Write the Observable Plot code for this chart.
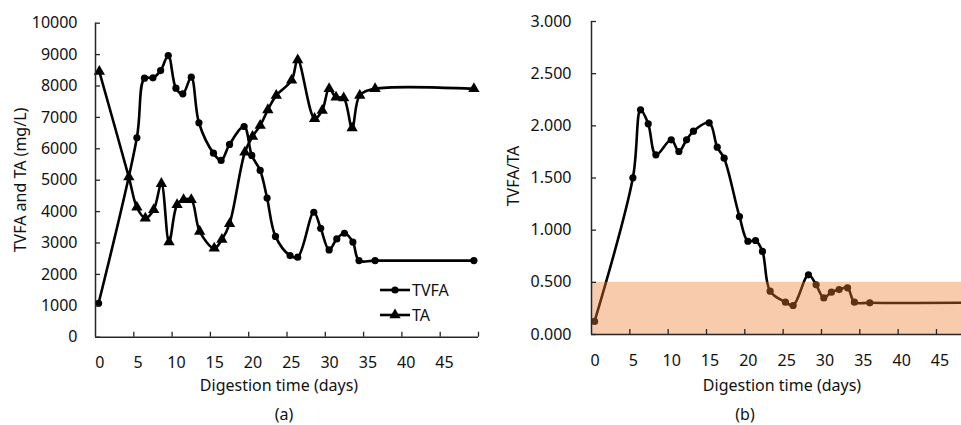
<!DOCTYPE html>
<html><head><meta charset="utf-8">
<script src="https://cdn.jsdelivr.net/npm/d3@7"></script>
<script src="https://cdn.jsdelivr.net/npm/@observablehq/plot@0.6"></script>
<style>
body{margin:0;background:#fff;overflow:hidden;font-family:"Noto Sans",sans-serif;}
#wrap{position:relative;width:961px;height:425px;overflow:hidden;background:#fff;}
.panel{position:absolute;top:0;overflow:hidden;}
.lbl{position:absolute;font-size:16px;color:#111;white-space:nowrap;transform:translate(-50%,-50%);line-height:1;}
.rot{transform:translate(-50%,-50%) rotate(-90deg);}
</style></head><body><div id="wrap"></div>
<script>
// ---- data ----
const tvfaDays = [0.4, 5.4, 6.4, 7.5, 8.5, 9.5, 10.5, 11.4, 12.5, 13.5, 15.4, 16.4, 17.5, 19.4, 20.4, 21.5, 22.4, 23.5, 25.4, 26.4, 28.5, 29.4, 30.5, 31.5, 32.5, 33.6, 34.4, 36.5, 49.4];
const tvfaValues = [1080, 6350, 8250, 8260, 8490, 8970, 7930, 7750, 8280, 6830, 5860, 5630, 6140, 6710, 5790, 5310, 4430, 3210, 2600, 2550, 3980, 3470, 2780, 3130, 3310, 3030, 2440, 2440, 2440];
const taDays = [0.5, 4.35, 5.4, 6.5, 7.6, 8.6, 9.6, 10.65, 11.5, 12.5, 13.6, 15.5, 16.5, 17.5, 19.5, 20.5, 21.5, 22.5, 23.6, 25.6, 26.4, 28.6, 29.6, 30.5, 31.4, 32.4, 33.5, 34.5, 36.5, 49.4];
const taValues = [8460, 5100, 4140, 3790, 4060, 4890, 3030, 4220, 4380, 4380, 3370, 2830, 3110, 3610, 5890, 6390, 6740, 7240, 7700, 8180, 8830, 6960, 7220, 7910, 7640, 7620, 6660, 7700, 7910, 7910];
const ratioDays = [0.4, 5.4, 6.4, 7.4, 8.4, 10.4, 11.4, 12.4, 13.3, 15.35, 16.4, 17.3, 19.3, 20.4, 21.4, 22.3, 23.3, 25.3, 26.3, 28.3, 29.3, 30.3, 31.3, 32.3, 33.4, 34.3, 36.3, 49.4];
const ratioValues = [0.125, 1.502, 2.153, 2.019, 1.722, 1.866, 1.754, 1.866, 1.949, 2.029, 1.795, 1.690, 1.131, 0.894, 0.901, 0.796, 0.415, 0.310, 0.278, 0.572, 0.476, 0.351, 0.406, 0.431, 0.447, 0.310, 0.304, 0.304];
const xTickMarks = [5, 10, 15, 20, 25, 30, 35, 40, 45, 50];
const xTickLabels = [0, 5, 10, 15, 20, 25, 30, 35, 40, 45];
const leftYTicks = [0, 1000, 2000, 3000, 4000, 5000, 6000, 7000, 8000, 9000, 10000];
const rightYTicks = [0, 0.5, 1, 1.5, 2, 2.5, 3];
const optimalBand = [{from: 0, to: 50, low: 0, high: 0.5}];
const xTitle = "Digestion time (days)";
const leftYTitle = "TVFA and TA (mg/L)";
const rightYTitle = "TVFA/TA";
const seriesNames = ["TVFA", "TA"];
const captions = ["(a)", "(b)"];

const tvfa = tvfaDays.map((d, i) => ({day: d, value: tvfaValues[i]}));
const ta = taDays.map((d, i) => ({day: d, value: taValues[i]}));
const ratio = ratioDays.map((d, i) => ({day: d, value: ratioValues[i]}));

const ink = "#111";
const axisInk = "#262626";
const font = {fontFamily: '"Noto Sans", sans-serif', fontSize: "16px", color: ink, background: "transparent", overflow: "hidden"};

function axes(yTicks, yFmt, frameW, frameH, xdx, ypad) {
  return [
    // inside tick marks
    Plot.tickX(xTickMarks, {x: d => d, stroke: axisInk, strokeWidth: 1.3, insetTop: frameH - 5}),
    Plot.tickY(yTicks, {y: d => d, stroke: axisInk, strokeWidth: 1.3, insetRight: frameW - 5}),
    // tick labels
    Plot.text(xTickLabels, {x: d => d, text: d => String(d), frameAnchor: "bottom", dy: 26, dx: xdx, fill: ink, fontSize: 16, lineAnchor: "middle"}),
    Plot.text(yTicks, {y: d => d, text: yFmt, frameAnchor: "left", dx: -ypad, textAnchor: "end", fill: ink, fontSize: 16, lineAnchor: "middle"}),
    // axis lines
    Plot.ruleX([0], {stroke: axisInk, strokeWidth: 1.5}),
    Plot.ruleY([0], {stroke: axisInk, strokeWidth: 1.5})
  ];
}

const left = Plot.plot({
  width: 480, height: 425,
  marginLeft: 95, marginRight: 2, marginTop: 22.7, marginBottom: 88.3,
  style: font,
  x: {domain: [0, 50], axis: null},
  y: {domain: [0, 10000], axis: null},
  marks: [
    Plot.line(tvfa, {x: "day", y: "value", curve: "catmull-rom", stroke: "#000", strokeWidth: 2.6}),
    Plot.dot(tvfa, {x: "day", y: "value", r: 3.6, fill: "#000", stroke: "none"}),
    Plot.line(ta, {x: "day", y: "value", curve: "catmull-rom", stroke: "#000", strokeWidth: 2.6}),
    Plot.dot(ta, {x: "day", y: "value", symbol: "triangle", r: 4.2, fill: "#000", stroke: "none"}),
    ...axes(leftYTicks, d => String(d), 383, 314, 4.3, 18)
  ]
});

const right = Plot.plot({
  width: 481, height: 425,
  marginLeft: 111, marginRight: 0, marginTop: 21, marginBottom: 91,
  style: font,
  x: {domain: [0, 50], range: [111, 494.3], axis: null},
  y: {domain: [0, 3], axis: null},
  marks: [
    Plot.line(ratio, {x: "day", y: "value", curve: "catmull-rom", stroke: "#000", strokeWidth: 2.6}),
    Plot.dot(ratio, {x: "day", y: "value", r: 3.6, fill: "#000", stroke: "none"}),
    Plot.rect(optimalBand, {x1: "from", x2: "to", y1: "low", y2: "high", fill: "#ED7D31", fillOpacity: 0.4}),
    ...axes(rightYTicks, d3.format(".3f"), 370, 313, 3.5, 20)
  ]
});

const wrap = document.getElementById("wrap");
function panel(node, x, w) {
  const d = document.createElement("div");
  d.className = "panel";
  d.style.left = x + "px"; d.style.width = w + "px"; d.style.height = "425px";
  d.appendChild(node);
  wrap.appendChild(d);
}
panel(left, 0, 480);
panel(right, 480, 481);

function label(text, x, y, rot) {
  const d = document.createElement("div");
  d.className = "lbl" + (rot ? " rot" : "");
  d.textContent = text;
  d.style.left = x + "px"; d.style.top = y + "px";
  wrap.appendChild(d);
}
label(xTitle, 279, 384.5);
label(xTitle, 782, 384.5);
label(leftYTitle, 20, 180, true);
label(rightYTitle, 513, 176, true);
label(captions[0], 284, 414);
label(captions[1], 745, 414);

// legend
const ns = "http://www.w3.org/2000/svg";
const leg = document.createElementNS(ns, "svg");
leg.setAttribute("width", 100); leg.setAttribute("height", 50);
leg.style.position = "absolute"; leg.style.left = "375px"; leg.style.top = "277px";
seriesNames.forEach((name, i) => {
  const y = 13 + i * 25;
  const l = document.createElementNS(ns, "line");
  l.setAttribute("x1", 5); l.setAttribute("x2", 35); l.setAttribute("y1", y); l.setAttribute("y2", y);
  l.setAttribute("stroke", "#000"); l.setAttribute("stroke-width", 2.6);
  leg.appendChild(l);
  const m = document.createElementNS(ns, "path");
  m.setAttribute("transform", `translate(20,${y})`);
  m.setAttribute("d", d3.symbol(i === 0 ? d3.symbolCircle : d3.symbolTriangle, i === 0 ? Math.PI * 3.6 * 3.6 : Math.PI * 4.2 * 4.2)());
  m.setAttribute("fill", "#000");
  leg.appendChild(m);
  const t = document.createElementNS(ns, "text");
  t.setAttribute("x", 37); t.setAttribute("y", y); t.setAttribute("dy", "0.35em");
  t.setAttribute("font-family", '"Noto Sans", sans-serif'); t.setAttribute("font-size", 16); t.setAttribute("fill", ink);
  t.textContent = name;
  leg.appendChild(t);
});
wrap.appendChild(leg);
</script>
</body></html>
